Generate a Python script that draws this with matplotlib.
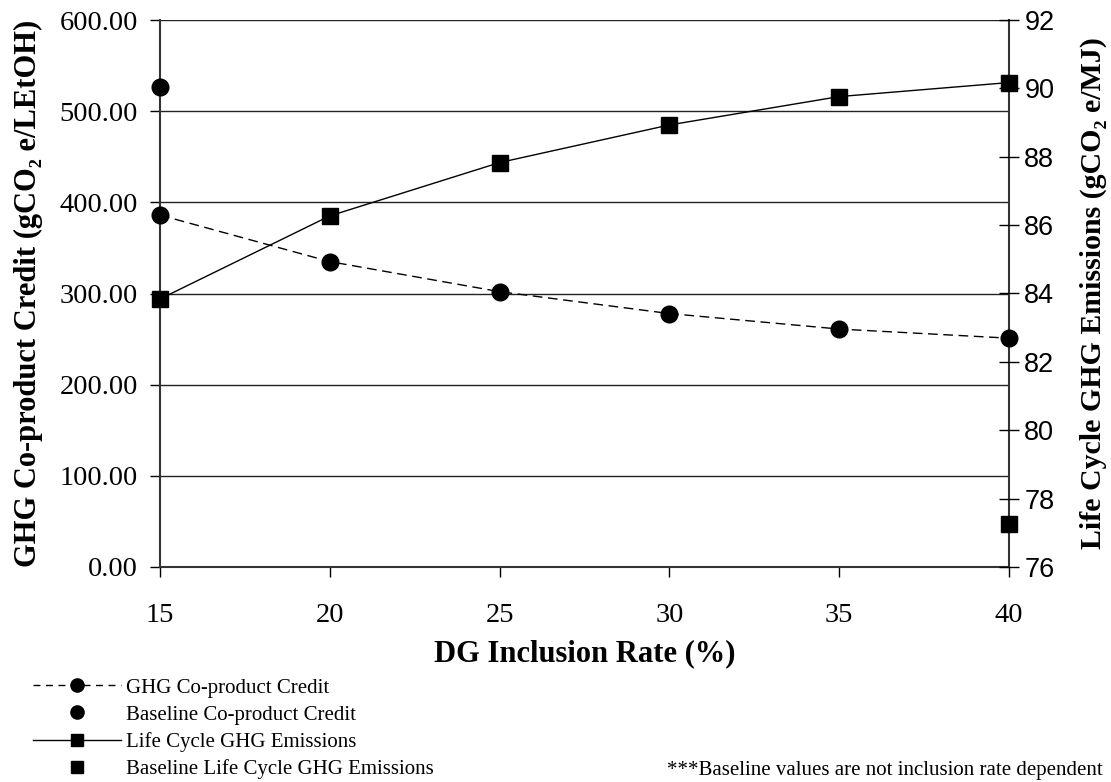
import matplotlib
matplotlib.use('Agg')
from matplotlib import pyplot as plt
from matplotlib.lines import Line2D

# values
rate = [15, 20, 25, 30, 35, 40]
credit = [386, 335, 302, 278, 261, 251]
emissions = [83.84, 86.27, 87.83, 88.93, 89.76, 90.17]
base_credit_x = [15]
base_credit = [526]
base_emis_x = [40]
base_emis = [77.25]

left_ticks = [0, 100, 200, 300, 400, 500, 600]
right_ticks = [76, 78, 80, 82, 84, 86, 88, 90, 92]
x_ticks = [15, 20, 25, 30, 35, 40]

plt.rcParams['font.family'] = ['Liberation Serif', 'DejaVu Serif']

fig = plt.figure(figsize=(11.11, 7.82), dpi=100)
ax = fig.add_axes([160/1111, 1-567/782, (1009-160)/1111, (567-20)/782])
ax2 = ax.twinx()

# left axis: co-product credit
ax.plot(rate, credit, color='k', lw=1, dashes=(7, 4), marker='o', ms=12,
        clip_on=False, zorder=3)
ax.plot(base_credit_x, base_credit, 'o', color='k', ms=12, clip_on=False, zorder=3)
ax.set_xlim(15, 40)
ax.set_ylim(0, 600)
ax.set_xticks(x_ticks)
ax.set_yticks(left_ticks)
ax.set_yticklabels(['%.2f' % v for v in left_ticks])
ax.grid(axis='y', color='#222222', lw=1)
ax.set_axisbelow(True)
ax.spines['top'].set_visible(False)
for s in ['left', 'right', 'bottom']:
    ax.spines[s].set_color('#333333')
    ax.spines[s].set_linewidth(1.5)
ax.tick_params(axis='y', direction='out', length=7, width=1, labelsize=20.5, pad=9)
ax.tick_params(axis='x', direction='out', length=7, width=1, labelsize=20.5, pad=19)
ax.set_ylabel('GHG Co-product Credit (gCO₂ e/LEtOH)', fontsize=22, fontweight='bold', labelpad=12)
ax.set_xlabel('DG Inclusion Rate (%)', fontsize=22, fontweight='bold', labelpad=8)

# right axis: life cycle emissions
ax2.plot(rate, emissions, color='k', lw=1, marker='s', ms=11.5, clip_on=False, zorder=3)
ax2.plot(base_emis_x, base_emis, 's', color='k', ms=11.5, clip_on=False, zorder=3)
ax2.set_ylim(76, 92)
ax2.set_yticks(right_ticks)
for s in ax2.spines.values():
    s.set_visible(False)
ax2.tick_params(axis='y', direction='inout', length=14, width=1, pad=4)
for t in ax2.get_yticklabels():
    t.set_family(['Liberation Sans', 'DejaVu Sans'])
    t.set_fontsize(19.5)
ax2.set_ylabel('Life Cycle GHG Emissions (gCO₂ e/MJ)', fontsize=21.5, fontweight='bold', labelpad=18)

handles = [
    Line2D([], [], color='k', lw=1, dashes=(5, 4), marker='o', ms=9.5),
    Line2D([], [], color='k', lw=0, marker='o', ms=9.5),
    Line2D([], [], color='k', lw=1, marker='s', ms=9),
    Line2D([], [], color='k', lw=0, marker='s', ms=9),
]
labels = ['GHG Co-product Credit', 'Baseline Co-product Credit',
          'Life Cycle GHG Emissions', 'Baseline Life Cycle GHG Emissions']
fig.legend(handles, labels, loc='upper left', bbox_to_anchor=(33/1111, 1-678/782),
           frameon=False, fontsize=15, numpoints=1, handlelength=4.2,
           handletextpad=0.25, labelspacing=0.36, borderpad=0, borderaxespad=0)

fig.text(1103/1111, 1-770/782, '***Baseline values are not inclusion rate dependent',
         ha='right', va='center', fontsize=15)

fig.savefig('out.png', dpi=100)
